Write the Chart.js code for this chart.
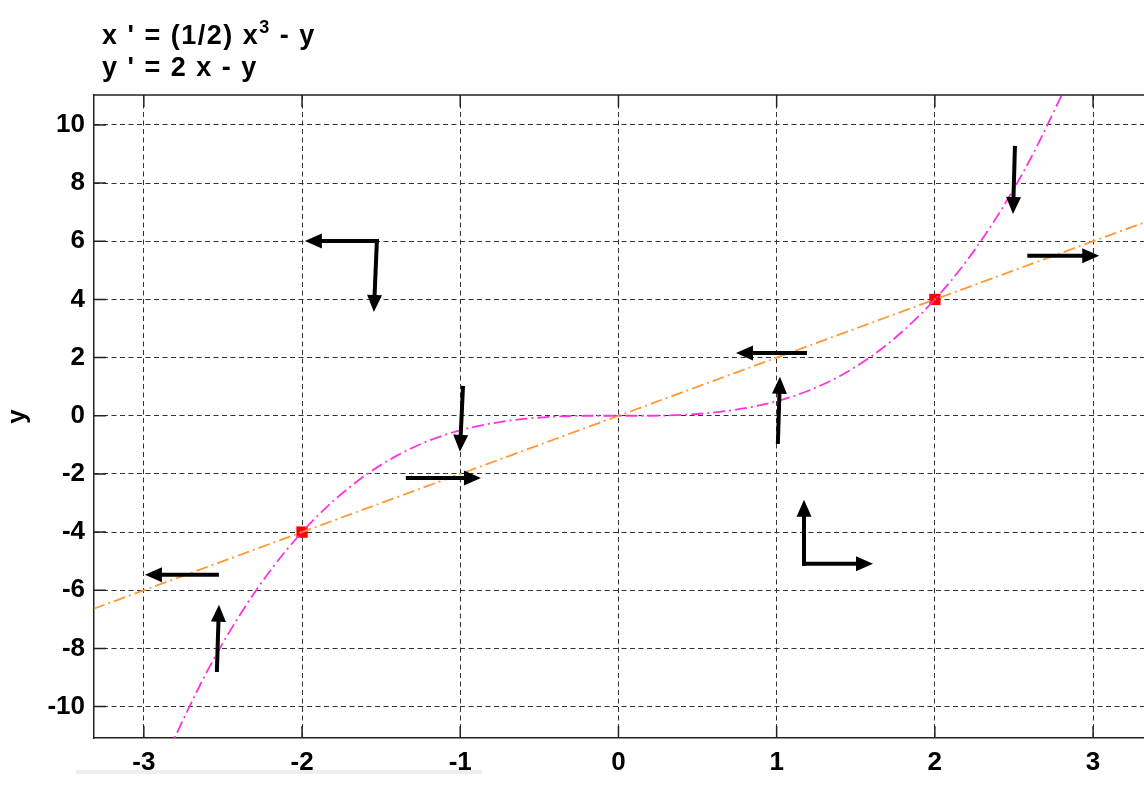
<!DOCTYPE html>
<html>
<head>
<meta charset="utf-8">
<script src="https://cdn.jsdelivr.net/npm/chart.js@4.4.1/dist/chart.umd.min.js"></script>
<style>
  html, body { margin: 0; padding: 0; background: #fff; }
  #wrap { width: 1144px; height: 787px; }
</style>
</head>
<body>
<div id="wrap"><canvas id="phase" width="1144" height="787"></canvas></div>
<script>
// x' = 0 nullcline
const cubicX = [-2.85, -2.6, -2.4, -2.2, -2.0, -1.8, -1.6, -1.4, -1.2, -1.0, -0.8, -0.6, -0.4, -0.2, 0,
                0.2, 0.4, 0.6, 0.8, 1.0, 1.2, 1.4, 1.6, 1.8, 2.0, 2.2, 2.4, 2.6, 2.85];
const cubicY = [-11.57, -8.79, -6.91, -5.32, -4.0, -2.92, -2.05, -1.37, -0.86, -0.5, -0.26, -0.11, -0.03, 0, 0,
                0, 0.03, 0.11, 0.26, 0.5, 0.86, 1.37, 2.05, 2.92, 4.0, 5.32, 6.91, 8.79, 11.57];

// y' = 0 nullcline
const lineX = [-3.32, 3.32];
const lineY = [-6.64, 6.64];

// equilibrium points
const eqX = [-2, 2];
const eqY = [-4, 4];

// direction arrows (base -> tip)
const arrowX0 = [-1.527, -1.527, -0.983, -1.331, -2.538, -2.538, 1.179, 1.008, 1.173, 1.173, 2.506, 2.597];
const arrowY0 = [6.01, 6.01, 0.96, -2.14, -5.47, -8.74, 2.16, -0.90, -5.09, -5.09, 9.21, 5.50];
const arrowX1 = [-1.982, -1.546, -1.002, -0.869, -2.993, -2.525, 0.743, 1.021, 1.173, 1.609, 2.494, 3.039];
const arrowY1 = [6.01, 3.57, -1.24, -2.14, -5.47, -6.50, 2.16, 1.34, -2.89, -5.09, 6.94, 5.50];

const xTicks = [-3, -2, -1, 0, 1, 2, 3];
const yTicks = [-10, -8, -6, -4, -2, 0, 2, 4, 6, 8, 10];

const toPoints = (xs, ys) => xs.map((v, i) => ({ x: v, y: ys[i] }));

// arrows, inward tick marks, top frame, equations
const extras = {
  id: 'extras',
  afterDatasetsDraw(chart) {
    const { ctx, scales: { x, y } } = chart;
    ctx.save();
    ctx.fillStyle = '#000';
    ctx.strokeStyle = '#000';
    ctx.lineWidth = 4;
    ctx.lineCap = 'square';
    for (let i = 0; i < arrowX0.length; i++) {
      const x0 = x.getPixelForValue(arrowX0[i]);
      const y0 = y.getPixelForValue(arrowY0[i]);
      const x1 = x.getPixelForValue(arrowX1[i]);
      const y1 = y.getPixelForValue(arrowY1[i]);
      const a = Math.atan2(y1 - y0, x1 - x0);
      const len = 17, half = 7.5;
      const bx = x1 - len * Math.cos(a), by = y1 - len * Math.sin(a);
      ctx.beginPath();
      ctx.moveTo(x0, y0);
      ctx.lineTo(bx, by);
      ctx.stroke();
      ctx.beginPath();
      ctx.moveTo(x1, y1);
      ctx.lineTo(bx + half * Math.sin(a), by - half * Math.cos(a));
      ctx.lineTo(bx - half * Math.sin(a), by + half * Math.cos(a));
      ctx.closePath();
      ctx.fill();
    }
    ctx.restore();
  },
  afterDraw(chart) {
    const { ctx, chartArea: area, scales: { x, y } } = chart;
    ctx.save();
    ctx.strokeStyle = '#222';
    ctx.lineWidth = 1.5;
    ctx.beginPath();
    ctx.moveTo(area.left, area.top);
    ctx.lineTo(area.right, area.top);
    xTicks.forEach(v => {
      const px = x.getPixelForValue(v);
      ctx.moveTo(px, area.bottom); ctx.lineTo(px, area.bottom - 12);
      ctx.moveTo(px, area.top); ctx.lineTo(px, area.top + 12);
    });
    yTicks.forEach(v => {
      const py = y.getPixelForValue(v);
      ctx.moveTo(area.left, py); ctx.lineTo(area.left + 12, py);
    });
    ctx.stroke();

    // equations
    ctx.fillStyle = '#000';
    ctx.textBaseline = 'alphabetic';
    ctx.letterSpacing = '1.5px';
    ctx.font = 'bold 27px "Liberation Sans", Arial, sans-serif';
    const part1 = "x ' = (1/2) x";
    ctx.fillText(part1, 102, 44);
    let w = ctx.measureText(part1).width;
    ctx.font = 'bold 18px "Liberation Sans", Arial, sans-serif';
    ctx.fillText('3', 102 + w, 33);
    const w3 = ctx.measureText('3').width;
    ctx.font = 'bold 27px "Liberation Sans", Arial, sans-serif';
    ctx.fillText(' - y', 102 + w + w3, 44);
    ctx.fillText("y ' = 2 x - y", 102, 76);

    // faint bar under the x labels
    ctx.fillStyle = '#eeeeee';
    ctx.fillRect(76, 770, 406, 4);
    ctx.restore();
  }
};

const curveStyle = {
  showLine: true,
  pointRadius: 0,
  borderWidth: 1.8,
  borderDash: [12, 4, 2, 4],
  fill: false
};

new Chart(document.getElementById('phase'), {
  type: 'scatter',
  data: {
    datasets: [
      Object.assign({ label: "x' = 0", data: toPoints(cubicX, cubicY), borderColor: '#ff33dd',
        cubicInterpolationMode: 'monotone' }, curveStyle),
      Object.assign({ label: "y' = 0", data: toPoints(lineX, lineY), borderColor: '#ff9933' }, curveStyle),
      {
        label: 'equilibria',
        data: toPoints(eqX, eqY),
        pointStyle: 'rect',
        pointRadius: 8,
        backgroundColor: '#ff0000',
        borderWidth: 0
      }
    ]
  },
  options: {
    responsive: false,
    devicePixelRatio: 1,
    animation: false,
    layout: { autoPadding: false, padding: { top: 95, left: 0, right: 0, bottom: 0 } },
    plugins: { legend: { display: false }, tooltip: { enabled: false } },
    scales: {
      x: {
        type: 'linear',
        min: -3.315,
        max: 3.322,
        afterBuildTicks: s => { s.ticks = xTicks.map(v => ({ value: v })); },
        afterFit: s => { s.height = 49; s.paddingLeft = 0; s.paddingRight = 0; },
        grid: { color: '#333', lineWidth: 1, drawTicks: false },
        border: { display: true, color: '#222', width: 1.5, dash: [5, 3.5] },
        ticks: { color: '#000', padding: 9, font: { family: '"Liberation Sans", Arial', size: 26, weight: 'bold' } }
      },
      y: {
        type: 'linear',
        min: -11.08,
        max: 11.03,
        afterBuildTicks: s => { s.ticks = yTicks.map(v => ({ value: v })); },
        afterFit: s => { s.width = 94; s.paddingTop = 0; s.paddingBottom = 0; },
        grid: { color: '#333', lineWidth: 1, drawTicks: false },
        border: { display: true, color: '#222', width: 1.5, dash: [5, 3.5] },
        ticks: { color: '#000', padding: 9, font: { family: '"Liberation Sans", Arial', size: 26, weight: 'bold' } },
        title: { display: true, text: 'y', color: '#000', padding: { top: 2, bottom: 0 },
          font: { family: '"Liberation Sans", Arial', size: 26, weight: 'bold' } }
      }
    }
  },
  plugins: [extras]
});
</script>
</body>
</html>
